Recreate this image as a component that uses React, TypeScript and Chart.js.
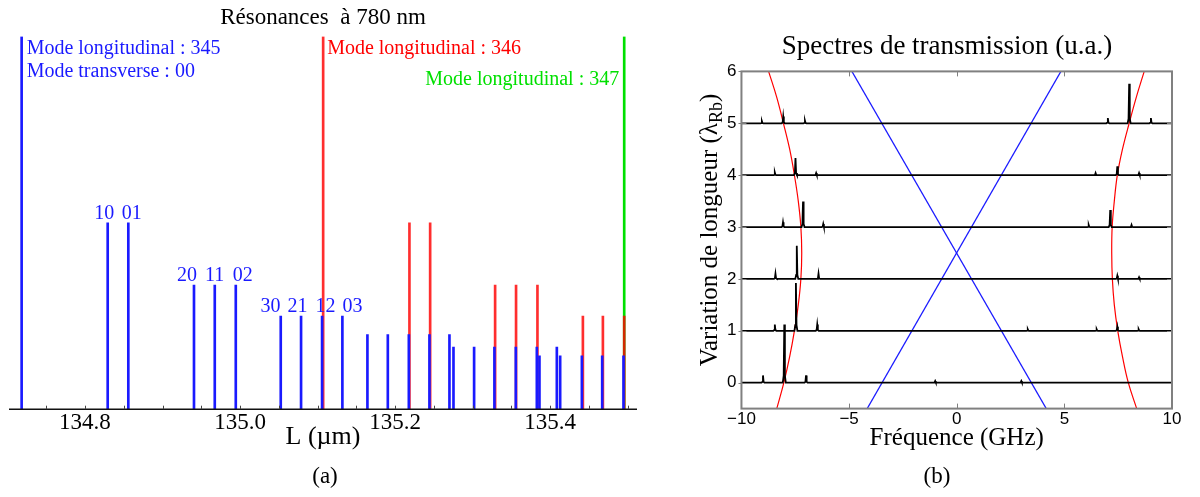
import React, { useEffect, useRef } from "react";
import { Chart, registerables } from "chart.js";
Chart.register(...registerables);

const SERIF = "'Liberation Serif', 'Times New Roman', serif";
const SANS = "'Liberation Sans', Arial, sans-serif";

// ---------- Panel (a) data ----------
const titleA = "Résonances  à 780 nm";
const xTitleA = "L (µm)";
const xMinA = 134.702;
const xMaxA = 135.512;
const xTicksA = [134.75, 134.8, 134.85, 134.9, 134.95, 135.0, 135.05, 135.1, 135.15, 135.2, 135.25, 135.3, 135.35, 135.4, 135.45, 135.5];
const xLabeledA = [134.8, 135.0, 135.2, 135.4];

const blueL = [134.7183, 134.8293, 134.8559, 134.9406, 134.9674, 134.9945, 135.0525, 135.0787, 135.1058, 135.132,
  135.1643, 135.1906, 135.2177, 135.2443, 135.2701,
  135.2753, 135.3019, 135.3281, 135.3557, 135.3828, 135.4086,
  135.3862, 135.4129, 135.4409, 135.4671, 135.4946];
const blueH = [1, 0.5, 0.5, 0.333, 0.333, 0.333, 0.25, 0.25, 0.25, 0.25,
  0.2, 0.2, 0.2, 0.2, 0.2,
  0.167, 0.167, 0.167, 0.167, 0.167, 0.167,
  0.143, 0.143, 0.143, 0.143, 0.143];
const blueModes = ["", "10", "01", "20", "11", "02", "30", "21", "12", "03"];

const redL = [135.1072, 135.2185, 135.2452, 135.329, 135.356, 135.3836, 135.4422, 135.468, 135.4955];
const redH = [1, 0.5, 0.5, 0.333, 0.333, 0.333, 0.25, 0.25, 0.25];
const greenL = [135.4955];
const greenH = [1];

const longLabels = ["Mode longitudinal : 345", "Mode longitudinal : 346", "Mode longitudinal : 347"];
const transLabel = "Mode transverse : 00";

// ---------- Panel (b) data ----------
const titleB = "Spectres de transmission (u.a.)";
const xTitleB = "Fréquence (GHz)";
const yTitleB = "Variation de longueur (λ";
const yTitleSubB = "Rb";
const xTicksB = [-10, -5, 0, 5, 10];
const yTicksB = [0, 1, 2, 3, 4, 5, 6];

const traceOffsets = [0, 1, 2, 3, 4, 5];
const peaksX = [
  [-9.0, -8.01, -7.0, -1.0, 3.0],
  [-8.45, -7.47, -6.48, 3.3, 6.5, 7.46, 8.45],
  [-8.42, -7.43, -6.42, 7.46, 8.47],
  [-8.07, -7.14, -6.2, 6.13, 7.13, 8.12],
  [-8.45, -7.49, -6.53, 6.45, 7.46, 8.47],
  [-9.05, -8.06, -7.05, 7.02, 8.01, 9.02],
];
const peaksH = [
  [0.14, 1.12, 0.14, 0.03, 0.03],
  [0.12, 0.92, 0.12, 0.03, 0.03, 0.08, 0.03],
  [0.1, 0.64, 0.1, 0.06, 0.03],
  [0.09, 0.49, 0.06, 0.04, 0.33, 0.04],
  [0.05, 0.33, 0.04, 0.04, 0.17, 0.04],
  [0.04, 0.13, 0.05, 0.1, 0.76, 0.1],
];

const redCurveY = [-0.5, 0, 0.5, 1, 1.5, 2, 2.5, 3, 3.5, 4, 4.5, 5, 5.5, 6];
const redLeftX = [-8.36, -8.03, -7.76, -7.54, -7.36, -7.24, -7.2, -7.24, -7.36, -7.54, -7.76, -8.05, -8.36, -8.74];
const redRightX = [8.36, 7.97, 7.7, 7.48, 7.32, 7.23, 7.2, 7.22, 7.32, 7.46, 7.7, 8.01, 8.34, 8.71];

const blueLineAX = [-4.87, 4.16];
const blueLineAY = [6, -0.5];
const blueLineBX = [4.84, -4.16];
const blueLineBY = [6, -0.5];

const BLUE = "#1a1aff";
const RED = "rgba(255,0,0,0.82)";
const GREEN = "#00e000";

function near(a: number, b: number) {
  return Math.abs(a - b) < 1e-6;
}

const panelAPlugin = {
  id: "panelA",
  afterDatasetsDraw(chart: any) {
    const { ctx, chartArea: ca, scales } = chart;
    const x = scales.x;
    const y = scales.y;
    ctx.save();
    ctx.strokeStyle = "#111";
    ctx.lineWidth = 1.6;
    ctx.beginPath();
    ctx.moveTo(ca.left, ca.bottom);
    ctx.lineTo(ca.right, ca.bottom);
    ctx.stroke();
    ctx.strokeStyle = "#444";
    ctx.lineWidth = 1;
    xTicksA.forEach((v) => {
      const px = Math.round(x.getPixelForValue(v)) + 0.5;
      ctx.beginPath();
      ctx.moveTo(px, ca.bottom);
      ctx.lineTo(px, ca.bottom - 3.5);
      ctx.stroke();
    });
    ctx.font = `20px ${SERIF}`;
    ctx.fillStyle = BLUE;
    ctx.textAlign = "center";
    ctx.textBaseline = "alphabetic";
    const groups: Record<string, number[]> = {};
    blueModes.forEach((m, i) => {
      if (!m) return;
      const k = String(blueH[i]);
      (groups[k] = groups[k] || []).push(i);
    });
    Object.keys(groups).forEach((k) => {
      const idx = groups[k];
      const pxs = idx.map((i) => x.getPixelForValue(blueL[i]));
      const c = pxs.reduce((s, v) => s + v, 0) / pxs.length;
      idx.forEach((i, j) => {
        const lx = c + (pxs[j] - c) * 1.33;
        const ty = y.getPixelForValue(blueH[i]) - 4;
        ctx.fillText(blueModes[i], lx, ty);
      });
    });
    ctx.font = `20px ${SERIF}`;
    ctx.textBaseline = "middle";
    ctx.textAlign = "left";
    const p345 = x.getPixelForValue(blueL[0]);
    ctx.fillStyle = BLUE;
    ctx.fillText(longLabels[0], p345 + 5, ca.top + 12);
    ctx.fillText(transLabel, p345 + 5, ca.top + 35);
    const p346 = x.getPixelForValue(redL[0]);
    ctx.fillStyle = "#ff0000";
    ctx.fillText(longLabels[1], p346 + 4, ca.top + 12);
    const p347 = x.getPixelForValue(greenL[0]);
    ctx.fillStyle = "#00e000";
    ctx.textAlign = "right";
    ctx.fillText(longLabels[2], p347 - 5, ca.top + 43);
    ctx.restore();
  },
};

const panelBPlugin = {
  id: "panelB",
  afterDatasetsDraw(chart: any) {
    const { ctx, chartArea: ca, scales } = chart;
    const x = scales.x;
    const y = scales.y;
    ctx.save();
    ctx.strokeStyle = "#808080";
    ctx.lineWidth = 1;
    const tl = 5;
    xTicksB.forEach((v) => {
      const px = Math.round(x.getPixelForValue(v)) + 0.5;
      ctx.beginPath();
      ctx.moveTo(px, ca.bottom);
      ctx.lineTo(px, ca.bottom - tl);
      ctx.moveTo(px, ca.top);
      ctx.lineTo(px, ca.top + tl);
      ctx.stroke();
    });
    yTicksB.forEach((v) => {
      const py = Math.round(y.getPixelForValue(v)) + 0.5;
      ctx.beginPath();
      ctx.moveTo(ca.left - 3, py);
      ctx.lineTo(ca.left + tl, py);
      ctx.moveTo(ca.right, py);
      ctx.lineTo(ca.right - tl, py);
      ctx.stroke();
    });
    ctx.lineWidth = 2;
    ctx.strokeRect(ca.left, ca.top, ca.right - ca.left, ca.bottom - ca.top);

    const fs = 25;
    const main = `${fs}px ${SERIF}`;
    const sub = `${Math.round(fs * 0.7)}px ${SERIF}`;
    ctx.font = main;
    const w1 = ctx.measureText(yTitleB).width;
    const w3 = ctx.measureText(")").width;
    ctx.font = sub;
    const w2 = ctx.measureText(yTitleSubB).width;
    const total = w1 + w2 + w3;
    const cy = (ca.top + ca.bottom) / 2 - 10;
    ctx.translate(ca.left - 24, cy);
    ctx.rotate(-Math.PI / 2);
    ctx.fillStyle = "#000";
    ctx.textAlign = "left";
    ctx.textBaseline = "alphabetic";
    let sx = -total / 2;
    ctx.font = main;
    ctx.fillText(yTitleB, sx, 0);
    sx += w1;
    ctx.font = sub;
    ctx.fillText(yTitleSubB, sx, 5);
    sx += w2;
    ctx.font = main;
    ctx.fillText(")", sx, 0);
    ctx.restore();
  },
};

function buildTrace(off: number, px: number[], ph: number[]) {
  const w = 0.014;
  const foot = 0.07;
  const pts: { x: number; y: number }[] = [{ x: -10, y: off }];
  px.map((p, i) => ({ p, h: ph[i] }))
    .sort((a, b) => a.p - b.p)
    .forEach(({ p, h }) => {
      pts.push({ x: p - foot, y: off });
      pts.push({ x: p - w * 2, y: off + h * 0.12 });
      pts.push({ x: p, y: off + h });
      pts.push({ x: p + w * 2, y: off + h * 0.12 });
      pts.push({ x: p + foot, y: off });
    });
  pts.push({ x: 10, y: off });
  return pts;
}

export default function App() {
  const refA = useRef<HTMLCanvasElement>(null);
  const refB = useRef<HTMLCanvasElement>(null);

  useEffect(() => {
    const chartA = new Chart(refA.current as HTMLCanvasElement, {
      type: "bar",
      data: {
        datasets: [
          {
            data: blueL.map((v, i) => ({ x: v, y: blueH[i] })),
            backgroundColor: BLUE,
            barThickness: 2,
            grouped: false,
          } as any,
          {
            data: redL.map((v, i) => ({ x: v, y: redH[i] })),
            backgroundColor: RED,
            barThickness: 2,
            grouped: false,
          } as any,
          {
            data: greenL.map((v, i) => ({ x: v, y: greenH[i] })),
            backgroundColor: GREEN,
            barThickness: 2,
            grouped: false,
          } as any,
        ],
      },
      options: {
        animation: false,
        responsive: false,
        maintainAspectRatio: false,
        layout: { padding: { left: 9, right: 13, top: 0, bottom: 44 } },
        plugins: {
          legend: { display: false },
          tooltip: { enabled: false },
          title: {
            display: true,
            text: titleA,
            color: "#000",
            font: { family: SERIF, size: 23, weight: "normal" },
            padding: { top: 4, bottom: 5 },
          },
        },
        scales: {
          x: {
            type: "linear",
            min: xMinA,
            max: xMaxA,
            offset: false,
            afterBuildTicks: (s: any) => {
              s.ticks = xTicksA.map((v) => ({ value: v }));
            },
            ticks: {
              autoSkip: false,
              maxRotation: 0,
              padding: 0,
              color: "#000",
              font: { family: SERIF, size: 23 },
              callback: (v: any) => (xLabeledA.some((l) => near(l, Number(v))) ? Number(v).toFixed(1) : ""),
            },
            grid: { display: false, drawTicks: false },
            border: { display: false },
            title: {
              display: true,
              text: xTitleA,
              color: "#000",
              font: { family: SERIF, size: 26 },
              padding: { top: -15, bottom: 0 },
            },
          },
          y: { display: false, min: 0, max: 1 },
        },
      } as any,
      plugins: [panelAPlugin],
    });

    const traceSets = traceOffsets.map((off, i) => ({
      data: buildTrace(off, peaksX[i], peaksH[i]),
      showLine: true,
      borderColor: "#000",
      borderWidth: 1.8,
      pointRadius: 0,
      tension: 0,
    }));
    const curve = (xs: number[], ys: number[], color: string, tension: number) => ({
      data: xs.map((v, i) => ({ x: v, y: ys[i] })),
      showLine: true,
      borderColor: color,
      borderWidth: 1.2,
      pointRadius: 0,
      tension,
    });

    const chartB = new Chart(refB.current as HTMLCanvasElement, {
      type: "scatter",
      data: {
        datasets: [
          ...traceSets,
          curve(redLeftX, redCurveY, "#ff0000", 0.4),
          curve(redRightX, redCurveY, "#ff0000", 0.4),
          curve(blueLineAX, blueLineAY, "#1a1aff", 0),
          curve(blueLineBX, blueLineBY, "#1a1aff", 0),
        ],
      },
      options: {
        animation: false,
        responsive: false,
        maintainAspectRatio: false,
        layout: { padding: { left: 72, right: 28, top: 0, bottom: 44 } },
        plugins: {
          legend: { display: false },
          tooltip: { enabled: false },
          title: {
            display: true,
            text: titleB,
            color: "#000",
            font: { family: SERIF, size: 27, weight: "normal" },
            padding: { top: 31, bottom: 8 },
          },
        },
        scales: {
          x: {
            type: "linear",
            min: -10,
            max: 10,
            afterBuildTicks: (s: any) => {
              s.ticks = xTicksB.map((v) => ({ value: v }));
            },
            ticks: {
              autoSkip: false,
              maxRotation: 0,
              padding: 1,
              color: "#000",
              font: { family: SANS, size: 17 },
              callback: (v: any) => (Number(v) < 0 ? "\u2212" + Math.abs(Number(v)) : String(v)),
            },
            grid: { display: false, drawTicks: false },
            border: { display: false },
            title: {
              display: true,
              text: xTitleB,
              color: "#000",
              font: { family: SERIF, size: 25 },
              padding: { top: -8, bottom: 0 },
            },
          },
          y: {
            type: "linear",
            min: -0.5,
            max: 6,
            afterBuildTicks: (s: any) => {
              s.ticks = yTicksB.map((v) => ({ value: v }));
            },
            ticks: {
              autoSkip: false,
              padding: 5,
              color: "#000",
              font: { family: SANS, size: 17 },
            },
            grid: { display: false, drawTicks: false },
            border: { display: false },
          },
        },
      } as any,
      plugins: [panelBPlugin],
    });

    return () => {
      chartA.destroy();
      chartB.destroy();
    };
  }, []);

  return (
    <div style={{ position: "fixed", left: 0, top: 0, width: 1200, height: 497, background: "#fff", overflow: "hidden" }}>
      <canvas ref={refA} width={650} height={497} style={{ position: "absolute", left: 0, top: 0, width: 650, height: 497 }} />
      <canvas ref={refB} width={550} height={497} style={{ position: "absolute", left: 650, top: 0, width: 550, height: 497 }} />
      <div style={{ position: "absolute", left: 325, top: 476, transform: "translate(-50%, -50%)", font: `23px ${SERIF}`, color: "#000", whiteSpace: "nowrap" }}>(a)</div>
      <div style={{ position: "absolute", left: 937, top: 476, transform: "translate(-50%, -50%)", font: `23px ${SERIF}`, color: "#000", whiteSpace: "nowrap" }}>(b)</div>
    </div>
  );
}
